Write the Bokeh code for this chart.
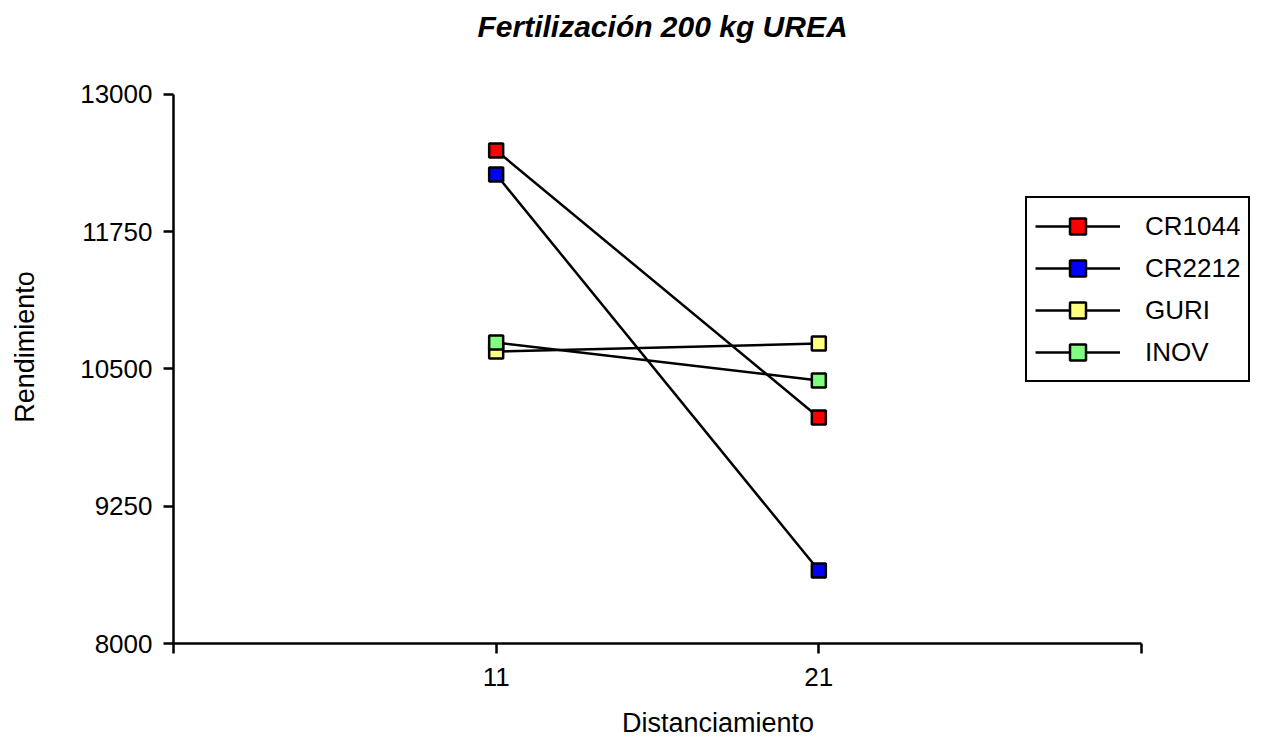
from bokeh.plotting import figure
from bokeh.models import FixedTicker, Legend, LegendItem, Title, ColumnDataSource
from bokeh.embed import file_html
from bokeh.resources import INLINE

# ---- data ----
distances = [11, 21]
series_names = ["CR1044", "CR2212", "GURI", "INOV"]
cr1044 = [12490, 10058]
cr2212 = [12271, 8665]
guri = [10659, 10732]
inov = [10741, 10395]
fill_colors = ["#ff0000", "#0000ff", "#ffff80", "#80ff80"]
y_ticks = [8000, 9250, 10500, 11750, 13000]
x_ticks = [1, 11, 21, 31]
x_tick_labels = {1: "", 11: "11", 21: "21", 31: ""}

FONT = "Liberation Sans"

p = figure(width=1262, height=741, output_backend="svg", toolbar_location=None,
           x_range=(1, 34.75), y_range=(8000, 13400.7),
           min_border_left=173, min_border_right=0, min_border_top=50, min_border_bottom=98)
p.outline_line_color = None
p.xgrid.visible = False
p.ygrid.visible = False
p.background_fill_color = "white"

p.title = Title(text="Fertilización 200 kg UREA", align="left", vertical_align="top",
                text_font=FONT, text_font_size="30px", text_font_style="bold italic",
                text_color="black", standoff=12, offset=304)

for ax in (p.xaxis[0], p.yaxis[0]):
    ax.axis_line_width = 2.5
    ax.axis_line_color = "black"
    ax.major_tick_line_width = 2.5
    ax.major_tick_line_color = "black"
    ax.major_tick_out = 10
    ax.major_tick_in = 0
    ax.minor_tick_line_color = None
    ax.major_label_text_font = FONT
    ax.major_label_text_font_size = "26px"
    ax.major_label_text_color = "black"
    ax.axis_label_text_font = FONT
    ax.axis_label_text_font_size = "27px"
    ax.axis_label_text_font_style = "normal"
    ax.axis_label_text_color = "black"

p.xaxis.ticker = FixedTicker(ticks=x_ticks)
p.xaxis.bounds = (1, 31)
p.xaxis.major_label_overrides = x_tick_labels
p.xaxis.major_label_standoff = 14
p.xaxis.axis_label = "Distanciamiento"
p.xaxis.axis_label_standoff = 19

p.yaxis.ticker = FixedTicker(ticks=y_ticks)
p.yaxis.bounds = (8000, 13000)
p.yaxis.major_label_standoff = 11
p.yaxis.axis_label = "Rendimiento"
p.yaxis.axis_label_standoff = 37

all_series = [cr1044, cr2212, guri, inov]
line_renderers = []
for vals in all_series:
    src = ColumnDataSource(dict(x=distances, y=vals))
    line_renderers.append(p.line("x", "y", source=src, line_color="black", line_width=2.5))

marker_renderers = []
for vals, col in zip(all_series, fill_colors):
    src = ColumnDataSource(dict(x=distances, y=vals))
    marker_renderers.append(p.scatter("x", "y", source=src, marker="square", size=14,
                                      fill_color=col, line_color="black", line_width=2.5))

items = [LegendItem(label=name, renderers=[lr, mr])
         for name, lr, mr in zip(series_names, line_renderers, marker_renderers)]
legend = Legend(items=items, location=(852, 261), orientation="vertical",
                glyph_width=85, glyph_height=40, label_height=30,
                label_standoff=25, spacing=2, padding=8, margin=0,
                label_text_font=FONT, label_text_font_size="26px", label_text_color="black",
                border_line_color="black", border_line_width=2.5, border_line_alpha=1.0,
                background_fill_color="white", background_fill_alpha=1.0)
p.add_layout(legend, "center")

open("out.html", "w").write(file_html(p, INLINE))
